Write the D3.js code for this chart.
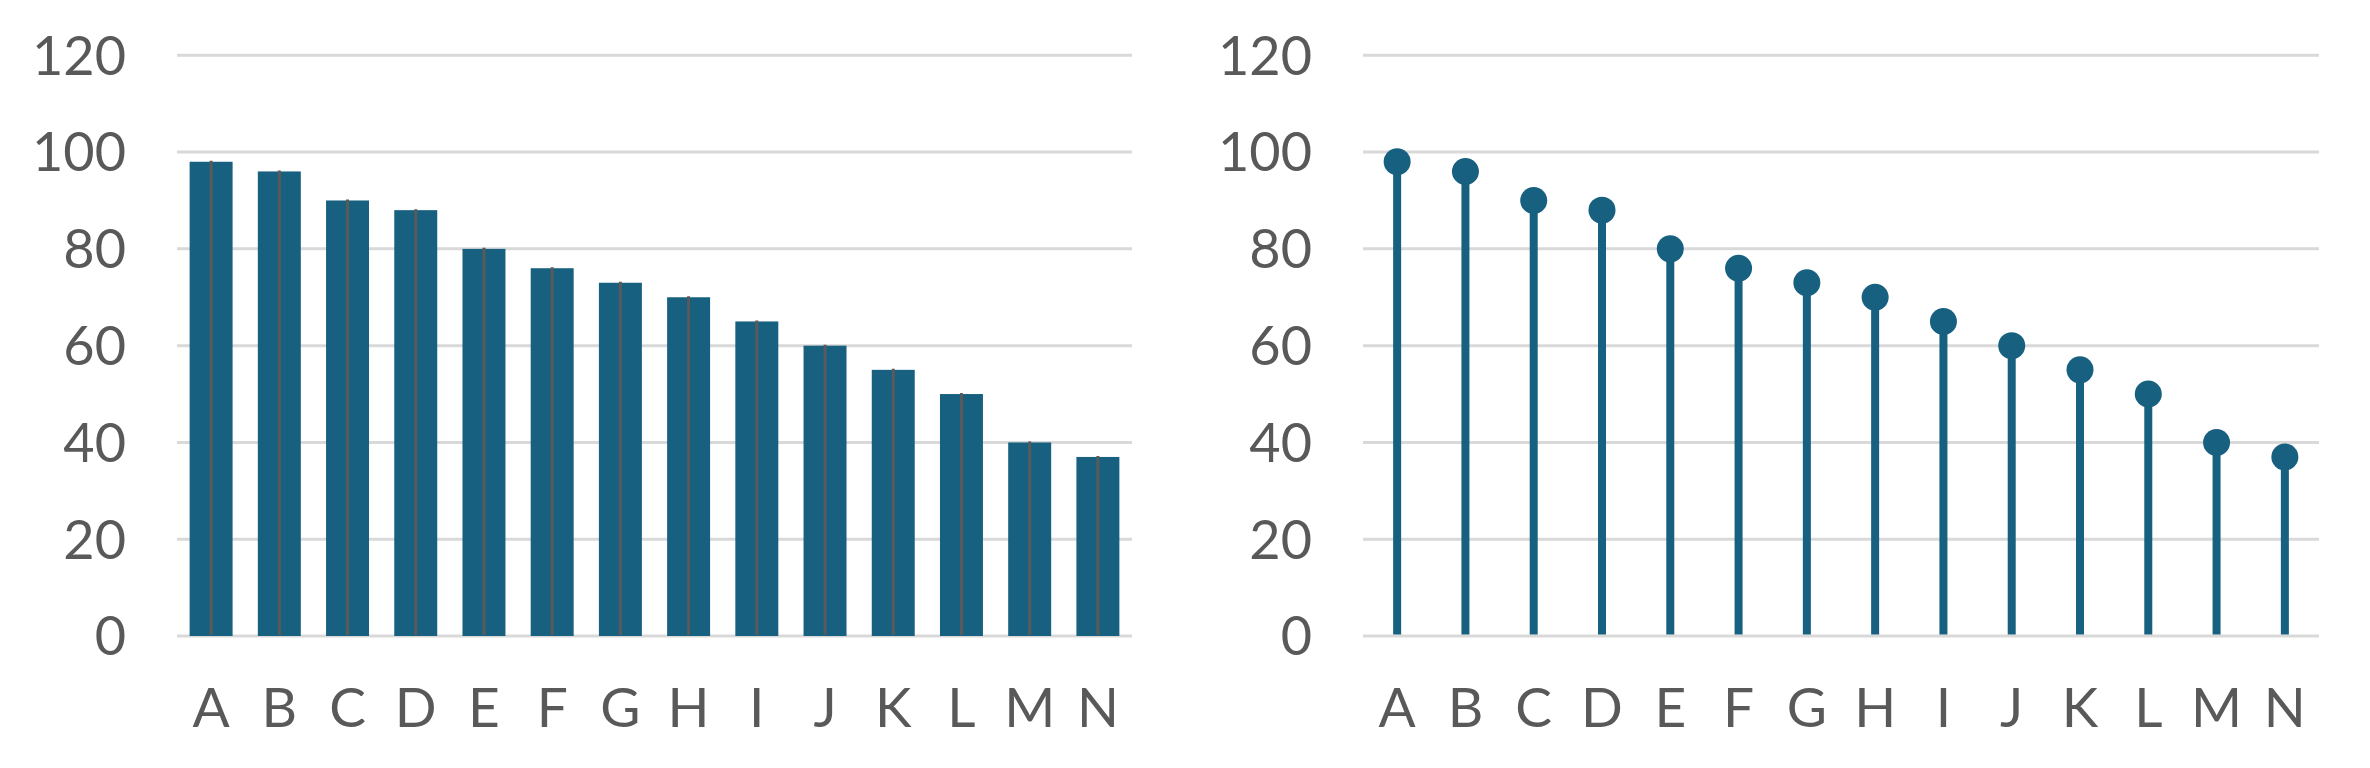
<!DOCTYPE html>
<html><head><meta charset="utf-8">
<script src="https://cdn.jsdelivr.net/npm/d3@7"></script>
<style>html,body{margin:0;padding:0;background:#fff;}svg{display:block;}</style>
</head><body>
<script>
const categories = ["A","B","C","D","E","F","G","H","I","J","K","L","M","N"];
const values = [98,96,90,88,80,76,73,70,65,60,55,50,40,37];
const yTicks = [0,20,40,60,80,100,120];

const W = 2370, H = 768;
const svg = d3.select("body").append("svg").attr("width", W).attr("height", H);
const color = "#176080";
const textColor = "#595959";
const gridColor = "#d9d9d9";
const font = "Lato, 'Open Sans', sans-serif";

const y = d3.scaleLinear().domain([0,120]).range([636, 55.3]);

function panel(x0, x1, kind) {
  const x = d3.scaleBand().domain(categories).range([x0, x1]).paddingInner(0.37).paddingOuter(0.185);
  const g = svg.append("g");
  // gridlines
  g.selectAll("line.grid").data(yTicks).join("line")
    .attr("x1", x0).attr("x2", x1)
    .attr("y1", d => y(d)).attr("y2", d => y(d))
    .attr("stroke", gridColor).attr("stroke-width", 3);
  // y axis labels
  const yAxis = d3.axisLeft(y).tickValues(yTicks).tickSize(0).tickPadding(0);
  const ya = g.append("g").attr("transform", `translate(${x0 - 51},0)`).call(yAxis);
  ya.select(".domain").remove();
  ya.selectAll("text").attr("fill", textColor).style("font-family", font).style("font-size", "54px").attr("dy", "0.35em");
  // x axis labels
  const xAxis = d3.axisBottom(x).tickSize(0).tickPadding(0);
  const xa = g.append("g").attr("transform", `translate(0,727)`).call(xAxis);
  xa.select(".domain").remove();
  xa.selectAll("text").attr("fill", textColor).style("font-family", font).style("font-size", "55px").attr("dy", "0");

  const data = categories.map((c,i) => ({c, v: values[i]}));
  if (kind === "bar") {
    g.selectAll("rect.bar").data(data).join("rect")
      .attr("x", d => x(d.c)).attr("width", x.bandwidth())
      .attr("y", d => y(d.v)).attr("height", d => y(0) - y(d.v))
      .attr("fill", color);
    g.selectAll("line.stem").data(data).join("line")
      .attr("x1", d => x(d.c) + x.bandwidth()/2).attr("x2", d => x(d.c) + x.bandwidth()/2)
      .attr("y1", y(0) - 1).attr("y2", d => y(d.v) - 1)
      .attr("stroke", "#5a5a5a").attr("stroke-width", 3);
  } else {
    g.selectAll("line.stem").data(data).join("line")
      .attr("x1", d => x(d.c) + x.bandwidth()/2).attr("x2", d => x(d.c) + x.bandwidth()/2)
      .attr("y1", y(0) - 1.5).attr("y2", d => y(d.v))
      .attr("stroke", color).attr("stroke-width", 8);
    g.selectAll("circle.dot").data(data).join("circle")
      .attr("cx", d => x(d.c) + x.bandwidth()/2).attr("cy", d => y(d.v))
      .attr("r", 13.5).attr("fill", color);
  }
}
panel(177, 1132, "bar");
panel(1363, 2319, "lollipop");
</script>
</body></html>
